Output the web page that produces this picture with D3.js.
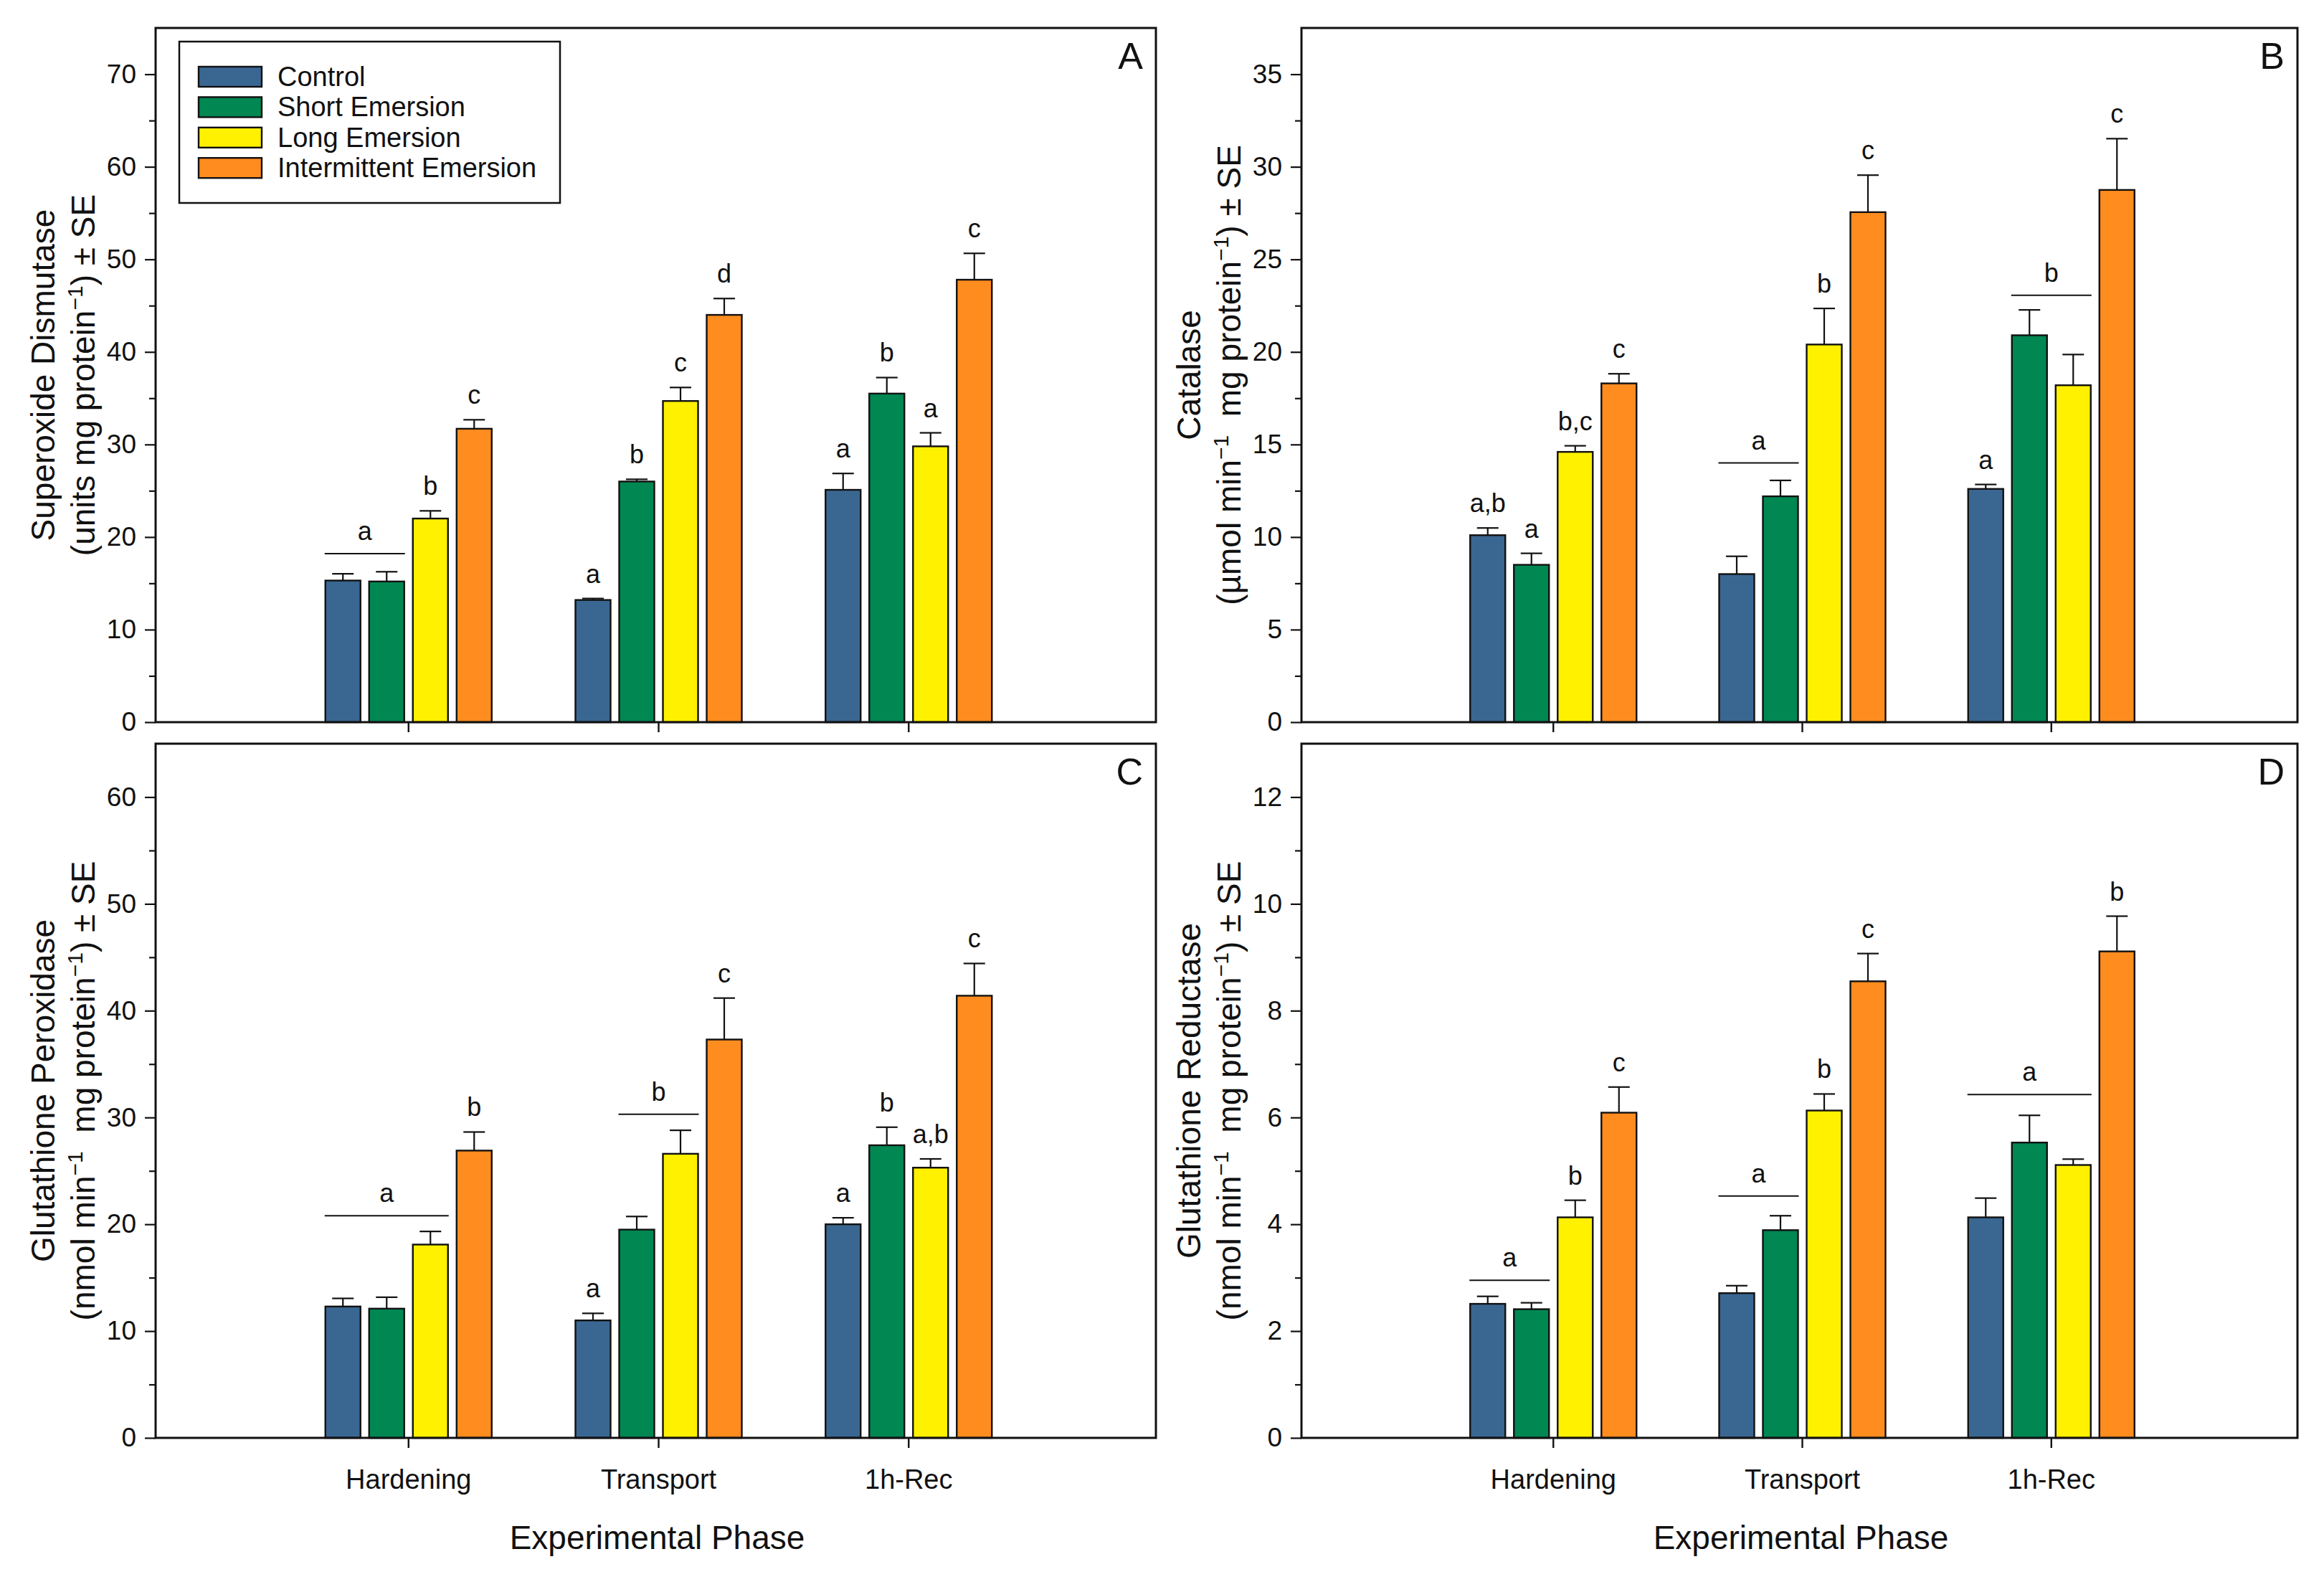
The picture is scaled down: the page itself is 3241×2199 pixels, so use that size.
<!DOCTYPE html>
<html>
<head>
<meta charset="utf-8">
<script src="https://cdn.jsdelivr.net/npm/d3@7"></script>
<style>
body { margin: 0; background: #fff; }
svg text { font-family: "Liberation Sans", Arial, sans-serif; fill: #111; }
</style>
</head>
<body>
<div id="chart"></div>
<script>
var phases = ["Hardening", "Transport", "1h-Rec"];
var treatments = ["Control", "Short Emersion", "Long Emersion", "Intermittent Emersion"];
var colors = ["#3a6792", "#008752", "#fff100", "#ff8c1f"];

// rows = phases, columns = treatments
var sodMean = [[15.3, 15.2, 22.0, 31.7], [13.2, 26.0, 34.7, 44.0], [25.1, 35.5, 29.8, 47.8]];
var sodSE = [[0.73, 1.05, 0.83, 0.97], [0.16, 0.24, 1.46, 1.77], [1.77, 1.73, 1.46, 2.85]];
var catMean = [[10.1, 8.5, 14.6, 18.3], [8.0, 12.2, 20.4, 27.55], [12.6, 20.9, 18.2, 28.75]];
var catSE = [[0.39, 0.62, 0.33, 0.52], [0.96, 0.86, 1.95, 2.0], [0.24, 1.37, 1.66, 2.77]];
var gpxMean = [[12.3, 12.1, 18.1, 26.9], [11.0, 19.5, 26.6, 37.3], [20.0, 27.4, 25.3, 41.4]];
var gpxSE = [[0.76, 1.07, 1.23, 1.74], [0.66, 1.23, 2.2, 3.88], [0.61, 1.69, 0.82, 3.02]];
var grMean = [[2.51, 2.41, 4.13, 6.09], [2.71, 3.89, 6.13, 8.55], [4.13, 5.53, 5.11, 9.11]];
var grSE = [[0.14, 0.12, 0.32, 0.48], [0.14, 0.27, 0.31, 0.52], [0.36, 0.51, 0.11, 0.66]];

// [phase, first bar, last bar, letter, line value (null = single bar)]
var sodLetters = [[0, 0, 1, "a", 18.2], [0, 2, 2, "b", null], [0, 3, 3, "c", null],
  [1, 0, 0, "a", null], [1, 1, 1, "b", null], [1, 2, 2, "c", null], [1, 3, 3, "d", null],
  [2, 0, 0, "a", null], [2, 1, 1, "b", null], [2, 2, 2, "a", null], [2, 3, 3, "c", null]];
var catLetters = [[0, 0, 0, "a,b", null], [0, 1, 1, "a", null], [0, 2, 2, "b,c", null], [0, 3, 3, "c", null],
  [1, 0, 1, "a", 14.0], [1, 2, 2, "b", null], [1, 3, 3, "c", null],
  [2, 0, 0, "a", null], [2, 1, 2, "b", 23.06], [2, 3, 3, "c", null]];
var gpxLetters = [[0, 0, 2, "a", 20.8], [0, 3, 3, "b", null],
  [1, 0, 0, "a", null], [1, 1, 2, "b", 30.3], [1, 3, 3, "c", null],
  [2, 0, 0, "a", null], [2, 1, 1, "b", null], [2, 2, 2, "a,b", null], [2, 3, 3, "c", null]];
var grLetters = [[0, 0, 1, "a", 2.95], [0, 2, 2, "b", null], [0, 3, 3, "c", null],
  [1, 0, 1, "a", 4.53], [1, 2, 2, "b", null], [1, 3, 3, "c", null],
  [2, 0, 2, "a", 6.43], [2, 3, 3, "b", null]];

var sodTicks = [0, 10, 20, 30, 40, 50, 60, 70];
var catTicks = [0, 5, 10, 15, 20, 25, 30, 35];
var gpxTicks = [0, 10, 20, 30, 40, 50, 60];
var grTicks = [0, 2, 4, 6, 8, 10, 12];

var panels = [
  { tag: "A", mean: sodMean, se: sodSE, letters: sodLetters, ticks: sodTicks, max: 75,
    title: "Superoxide Dismutase", unit: ["(units mg protein", "\u22121", ") \u00b1 SE"],
    left: 217, top: 39, w: 1395, labels: false, legend: true },
  { tag: "B", mean: catMean, se: catSE, letters: catLetters, ticks: catTicks, max: 37.5,
    title: "Catalase", unit: ["(\u00b5mol min", "\u22121", "  mg protein", "\u22121", ") \u00b1 SE"],
    left: 1815, top: 39, w: 1389, labels: false },
  { tag: "C", mean: gpxMean, se: gpxSE, letters: gpxLetters, ticks: gpxTicks, max: 65,
    title: "Glutathione Peroxidase", unit: ["(nmol min", "\u22121", "  mg protein", "\u22121", ") \u00b1 SE"],
    left: 217, top: 1037, w: 1395, labels: true },
  { tag: "D", mean: grMean, se: grSE, letters: grLetters, ticks: grTicks, max: 13,
    title: "Glutathione Reductase", unit: ["(nmol min", "\u22121", "  mg protein", "\u22121", ") \u00b1 SE"],
    left: 1815, top: 1037, w: 1389, labels: true }
];

var height = 968;

var svg = d3.select("#chart").append("svg")
    .attr("width", 3241)
    .attr("height", 2199)
    .style("background", "#fff");

panels.forEach(function(p) {
    var g = svg.append("g").attr("transform", "translate(" + p.left + "," + p.top + ")");

    var x0 = d3.scaleBand().domain(phases).range([4, p.w + 4]).paddingInner(0).paddingOuter(0.5);
    var x1 = d3.scaleBand().domain(treatments).range([-116, 116]).paddingInner(0.197);
    var y = d3.scaleLinear().domain([0, p.max]).range([height, 0]);
    var step = p.ticks[1] - p.ticks[0];
    var minor = p.ticks.map(function(t) { return t + step / 2; }).filter(function(t) { return t < p.max; });

    var cx = function(pi, ti) { return x0(phases[pi]) + x0.bandwidth() / 2 + x1(treatments[ti]); };

    // bars
    var rows = [];
    p.mean.forEach(function(r, pi) {
        r.forEach(function(v, ti) { rows.push({ p: pi, t: ti, v: v, se: p.se[pi][ti] }); });
    });

    g.selectAll("rect.bar").data(rows).enter().append("rect")
        .attr("class", "bar")
        .attr("x", function(d) { return cx(d.p, d.t); })
        .attr("width", x1.bandwidth())
        .attr("y", function(d) { return y(d.v); })
        .attr("height", function(d) { return height - y(d.v); })
        .style("fill", function(d) { return colors[d.t]; })
        .style("stroke", "#111")
        .style("stroke-width", 2.4);

    // error bars (upper only)
    var eb = g.selectAll("g.err").data(rows).enter().append("g").attr("class", "err");
    eb.append("line")
        .attr("x1", function(d) { return cx(d.p, d.t) + x1.bandwidth() / 2; })
        .attr("x2", function(d) { return cx(d.p, d.t) + x1.bandwidth() / 2; })
        .attr("y1", function(d) { return y(d.v); })
        .attr("y2", function(d) { return y(d.v + d.se); })
        .style("stroke", "#111").style("stroke-width", 2.2);
    eb.append("line")
        .attr("x1", function(d) { return cx(d.p, d.t) + x1.bandwidth() / 2 - 15; })
        .attr("x2", function(d) { return cx(d.p, d.t) + x1.bandwidth() / 2 + 15; })
        .attr("y1", function(d) { return y(d.v + d.se); })
        .attr("y2", function(d) { return y(d.v + d.se); })
        .style("stroke", "#111").style("stroke-width", 2.2);

    // significance letters
    p.letters.forEach(function(l) {
        var xa = cx(l[0], l[1]), xb = cx(l[0], l[2]) + x1.bandwidth();
        var yl;
        if (l[4] !== null) {
            g.append("line")
                .attr("x1", xa - 1).attr("x2", xb + 1)
                .attr("y1", y(l[4])).attr("y2", y(l[4]))
                .style("stroke", "#111").style("stroke-width", 2);
            yl = y(l[4]) - 19;
        } else {
            yl = y(p.mean[l[0]][l[1]] + p.se[l[0]][l[1]]) - 22;
        }
        g.append("text")
            .attr("x", (xa + xb) / 2)
            .attr("y", yl)
            .attr("text-anchor", "middle")
            .style("font-size", "36px")
            .text(l[3]);
    });

    // y axis
    var ya = g.append("g").call(d3.axisLeft(y).tickValues(p.ticks).tickSize(15).tickPadding(12));
    ya.select(".domain").remove();
    ya.selectAll("line").style("stroke", "#111").style("stroke-width", 2.2);
    ya.selectAll("text").style("font-size", "37px").style("fill", "#111");
    var ym = g.append("g").call(d3.axisLeft(y).tickValues(minor).tickSize(9).tickFormat(""));
    ym.select(".domain").remove();
    ym.selectAll("line").style("stroke", "#111").style("stroke-width", 2.2);

    // x axis
    var xa = g.append("g").attr("transform", "translate(0," + height + ")")
        .call(d3.axisBottom(x0).tickSize(14).tickPadding(30)
            .tickFormat(p.labels ? null : function() { return ""; }));
    xa.select(".domain").remove();
    xa.selectAll("line").style("stroke", "#111").style("stroke-width", 2.4);
    xa.selectAll("text").style("font-size", "38px").style("fill", "#111");

    // frame
    g.append("rect")
        .attr("x", 0).attr("y", 0).attr("width", p.w).attr("height", height)
        .style("fill", "none").style("stroke", "#111").style("stroke-width", 3);

    // panel tag
    g.append("text")
        .attr("x", p.w - 18).attr("y", 57)
        .attr("text-anchor", "end")
        .style("font-size", "52px")
        .text(p.tag);

    // y title
    g.append("text")
        .attr("transform", "translate(-141," + (height / 2) + ") rotate(-90)")
        .attr("text-anchor", "middle")
        .style("font-size", "46px")
        .text(p.title);
    var ut = g.append("text")
        .attr("transform", "translate(-85," + (height / 2) + ") rotate(-90)")
        .attr("text-anchor", "middle")
        .style("font-size", "46px")
        .style("white-space", "pre");
    p.unit.forEach(function(s, i) {
        var sup = i % 2 === 1;
        ut.append("tspan")
            .attr("dy", sup ? -17 : (i > 0 ? 17 : 0))
            .style("font-size", sup ? "30px" : "46px")
            .text(s);
    });

    if (p.labels) {
        g.append("text")
            .attr("x", p.w / 2 + 2).attr("y", height + 155)
            .attr("text-anchor", "middle")
            .style("font-size", "46px")
            .text("Experimental Phase");
    }

    if (p.legend) {
        var lg = g.append("g").attr("transform", "translate(" + (250 - p.left) + "," + (58 - p.top) + ")");
        lg.append("rect").attr("width", 531).attr("height", 225)
            .style("fill", "#fff").style("stroke", "#111").style("stroke-width", 2.5);
        treatments.forEach(function(t, i) {
            lg.append("rect")
                .attr("x", 27).attr("y", 35 + i * 42.4)
                .attr("width", 88).attr("height", 28)
                .style("fill", colors[i]).style("stroke", "#111").style("stroke-width", 2.4);
            lg.append("text")
                .attr("x", 137).attr("y", 62 + i * 42.4)
                .style("font-size", "38px")
                .text(t);
        });
    }
});
</script>
</body>
</html>
